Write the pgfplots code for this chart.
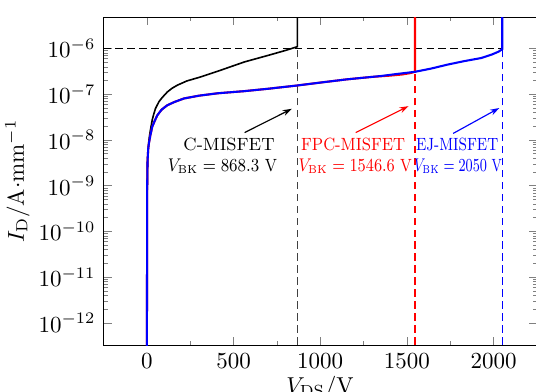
\documentclass[border=0pt]{standalone}
\usepackage{graphicx}
\usepackage{pgfplots}
\pgfplotsset{compat=1.18}
\usetikzlibrary{arrows.meta}
\begin{document}
\begin{tikzpicture}
\begin{axis}[
  scale only axis, width=188.4pt, height=142.6pt,
  xmin=-250, xmax=2250,
  ymode=log, ymin=3.25e-13, ymax=4.9e-6,
  xtick={0,500,1000,1500,2000}, minor x tick num=1,
  ytick={1e-12,1e-11,1e-10,1e-9,1e-8,1e-7,1e-6},
  x tick label style={/pgf/number format/1000 sep={}},
  tick align=inside, major tick length=3.6pt, minor tick length=1.8pt,
  xlabel={$V_{\mathrm{DS}}/\mathrm{V}$},
  ylabel={$I_{\mathrm{D}}/\mathrm{A{\cdot}mm^{-1}}$},
  xlabel style={yshift=3.5pt},
  ylabel style={yshift=-3pt},
  clip=true,
]
% dashed guides
\addplot[black, line width=0.6pt, dash pattern=on 3.2pt off 2pt] coordinates {(-250,1e-6) (2050,1e-6)};
\addplot[black!75, line width=0.7pt, dash pattern=on 3.2pt off 2pt] coordinates {(868.3,1e-13) (868.3,1e-6)};
\addplot[red, line width=0.55pt, dash pattern=on 3.2pt off 2pt] coordinates {(1546.6,1e-13) (1546.6,3.1e-7)};
\addplot[blue, line width=0.6pt, dash pattern=on 3.2pt off 2pt] coordinates {(2050,1e-13) (2050,9.7e-7)};
% C-MISFET
\addplot[black, line width=0.7pt] coordinates {
(0,1e-13) (0.5,1e-12) (1,1e-11) (1.5,1e-10) (2,1e-9) (4,3.5e-9) (8,6.5e-9) (12,1e-8)
(20,1.6e-8) (31,2.75e-8) (40,3.7e-8) (50,4.9e-8) (70,6.9e-8) (90,8.6e-8) (118,1.12e-7)
(145,1.35e-7) (176,1.58e-7) (230,1.95e-7) (311,2.4e-7) (420,3.3e-7) (563,5.1e-7)
(700,7.1e-7) (800,9.1e-7) (868.3,1.1e-6) (868.3,1e-4)};
% FPC-MISFET
\addplot[red, line width=0.9pt] coordinates {
(0,1e-13) (0.5,1e-12) (1,1e-11) (1.5,1e-10) (2,1e-9) (4,3.5e-9) (8,6.5e-9) (12,8.5e-9)
(20,1.25e-8) (31,1.95e-8) (45,2.6e-8) (60,3.45e-8) (85,4.6e-8) (118,5.75e-8) (160,6.8e-8)
(215,8.1e-8) (300,9.3e-8) (408,1.05e-7) (563,1.17e-7) (700,1.32e-7) (864,1.55e-7)
(1000,1.8e-7) (1154,2.12e-7) (1300,2.4e-7) (1400,2.55e-7) (1470,2.7e-7) (1520,2.9e-7)
(1546.6,3.1e-7) (1546.6,1e-4)};
% EJ-MISFET
\addplot[blue, line width=0.9pt] coordinates {
(0,1e-13) (0.5,1e-12) (1,1e-11) (1.5,1e-10) (2,1e-9) (4,3.5e-9) (8,6.5e-9) (12,8.5e-9)
(20,1.25e-8) (31,1.95e-8) (45,2.6e-8) (60,3.45e-8) (85,4.6e-8) (118,5.75e-8) (160,6.8e-8)
(215,8.1e-8) (300,9.3e-8) (408,1.05e-7) (563,1.17e-7) (700,1.32e-7) (864,1.55e-7)
(1000,1.8e-7) (1154,2.12e-7) (1347,2.5e-7) (1450,2.8e-7) (1546.6,3.1e-7) (1640,3.65e-7)
(1734,4.45e-7) (1830,5.3e-7) (1928,6.2e-7) (1990,7.4e-7) (2030,8.6e-7) (2050,9.7e-7)
(2050,1e-4)};
% arrows
\addplot[black, line width=0.5pt, -{Stealth[length=4pt,width=2.6pt]}] coordinates {(564,1.45e-8) (836,4.8e-8)};
\addplot[red, line width=0.5pt, -{Stealth[length=4pt,width=2.6pt]}] coordinates {(1205,1.45e-8) (1510,5.5e-8)};
\addplot[blue, line width=0.5pt, -{Stealth[length=4pt,width=2.6pt]}] coordinates {(1767,1.39e-8) (2033,5.0e-8)};
% labels
\tikzset{lab/.style={anchor=base, inner sep=0pt, font=\fontsize{7.7}{9}\selectfont}}
\node[lab, text=black] at (axis cs:474,5.81e-9) {\resizebox{39.6pt}{\height}{C-MISFET}};
\node[lab, text=black] at (axis cs:436,2.06e-9) {\resizebox{47.4pt}{\height}{$V_{\mathrm{BK}}=868.3$ V}};
\node[lab, text=red] at (axis cs:1190,5.81e-9) {\resizebox{45.2pt}{\height}{FPC-MISFET}};
\node[lab, text=red] at (axis cs:1202,2.06e-9) {\resizebox{49.3pt}{\height}{$V_{\mathrm{BK}}=1546.6$ V}};
\node[lab, text=blue] at (axis cs:1790,5.81e-9) {\resizebox{35.7pt}{\height}{EJ-MISFET}};
\node[lab, text=blue] at (axis cs:1795,2.06e-9) {\resizebox{38.1pt}{\height}{$V_{\mathrm{BK}}=2050$ V}};
\end{axis}
\pgfresetboundingbox
\path[use as bounding box] ([xshift=-45pt,yshift=-20.4pt]current axis.south west) rectangle ([xshift=188pt,yshift=7.4pt]current axis.north west);
\end{tikzpicture}
\end{document}
